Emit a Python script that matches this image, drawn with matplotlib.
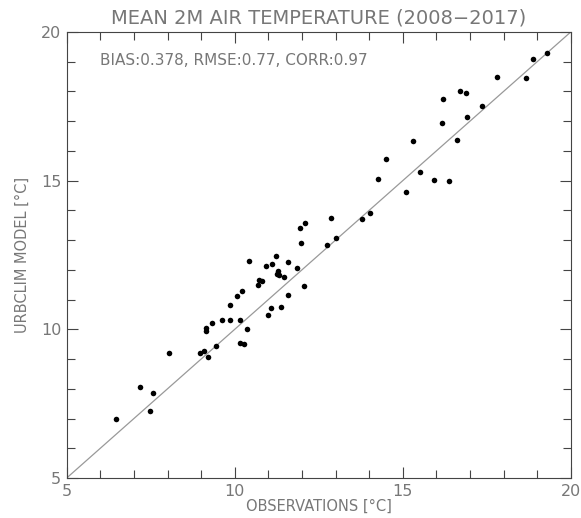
import matplotlib
matplotlib.use("Agg")
import matplotlib.pyplot as plt
from matplotlib.ticker import MultipleLocator

# observed vs modelled mean 2m air temperature per station
obs = [6.47, 7.17, 7.57, 7.49, 8.03, 8.97, 9.10, 9.21, 9.14, 9.16,
       9.43, 10.16, 10.28, 10.38, 9.31, 9.63, 9.87, 10.16, 9.87, 10.07,
       10.21, 10.44, 10.92, 11.12, 11.22, 10.70, 10.72, 10.82, 11.29, 11.26,
       11.32, 11.48, 11.58, 11.84, 12.05, 11.58, 11.08, 11.38, 11.00, 11.94,
       12.08, 11.97, 12.76, 13.01, 12.88, 13.79, 14.03, 14.25, 14.50, 15.10,
       15.50, 15.94, 16.38, 15.30, 16.18, 16.62, 16.21, 16.92, 16.71, 16.87,
       17.35, 17.81, 18.67, 18.87, 19.28]
model = [6.98, 8.07, 7.86, 7.25, 9.21, 9.21, 9.27, 9.06, 9.95, 10.04,
         9.43, 9.55, 9.52, 10.00, 10.21, 10.32, 10.32, 10.32, 10.83, 11.11,
         11.30, 12.30, 12.14, 12.21, 12.47, 11.49, 11.67, 11.62, 11.97, 11.85,
         11.83, 11.77, 12.26, 12.07, 11.45, 11.16, 10.73, 10.74, 10.49, 13.40,
         13.59, 12.89, 12.85, 13.06, 13.73, 13.71, 13.92, 15.07, 15.74, 14.61,
         15.30, 15.03, 14.99, 16.33, 16.93, 16.36, 17.76, 17.13, 18.03, 17.95,
         17.52, 18.48, 18.46, 19.10, 19.28]

lims = [5, 20]
ticks = [5, 10, 15, 20]
stats_text = "BIAS:0.378, RMSE:0.77, CORR:0.97"

grey = "#777777"

fig = plt.figure(figsize=(5.81, 5.18), dpi=100)
ax = fig.add_axes([0.1148, 0.0772, 0.8675, 0.861])

ax.plot(lims, lims, color="#999999", lw=0.9, zorder=1)
ax.scatter(obs, model, s=16, color="black", zorder=2, linewidths=0)

ax.set_xlim(lims)
ax.set_ylim(lims)
ax.set_xticks(ticks)
ax.set_yticks(ticks)
ax.xaxis.set_minor_locator(MultipleLocator(1))
ax.yaxis.set_minor_locator(MultipleLocator(1))
ax.tick_params(which="both", direction="in", top=True, right=True,
               color="#444444", labelcolor=grey, labelsize=11.5, width=0.8)
ax.tick_params(which="major", length=8, pad=4)
ax.tick_params(which="minor", length=6)
for s in ax.spines.values():
    s.set_color("#444444")
    s.set_linewidth(0.8)

ax.set_title("MEAN 2M AIR TEMPERATURE (2008\u22122017)", fontsize=14,
             color=grey, pad=6)
ax.set_xlabel("OBSERVATIONS [\u00b0C]", fontsize=10.5, color=grey, labelpad=0)
ax.set_ylabel("URBCLIM MODEL [\u00b0C]", fontsize=10.5, color=grey, labelpad=8)
ax.text(0.066, 0.952, stats_text, transform=ax.transAxes, fontsize=11,
        color=grey, va="top", ha="left")

fig.savefig("out.png", dpi=100)
